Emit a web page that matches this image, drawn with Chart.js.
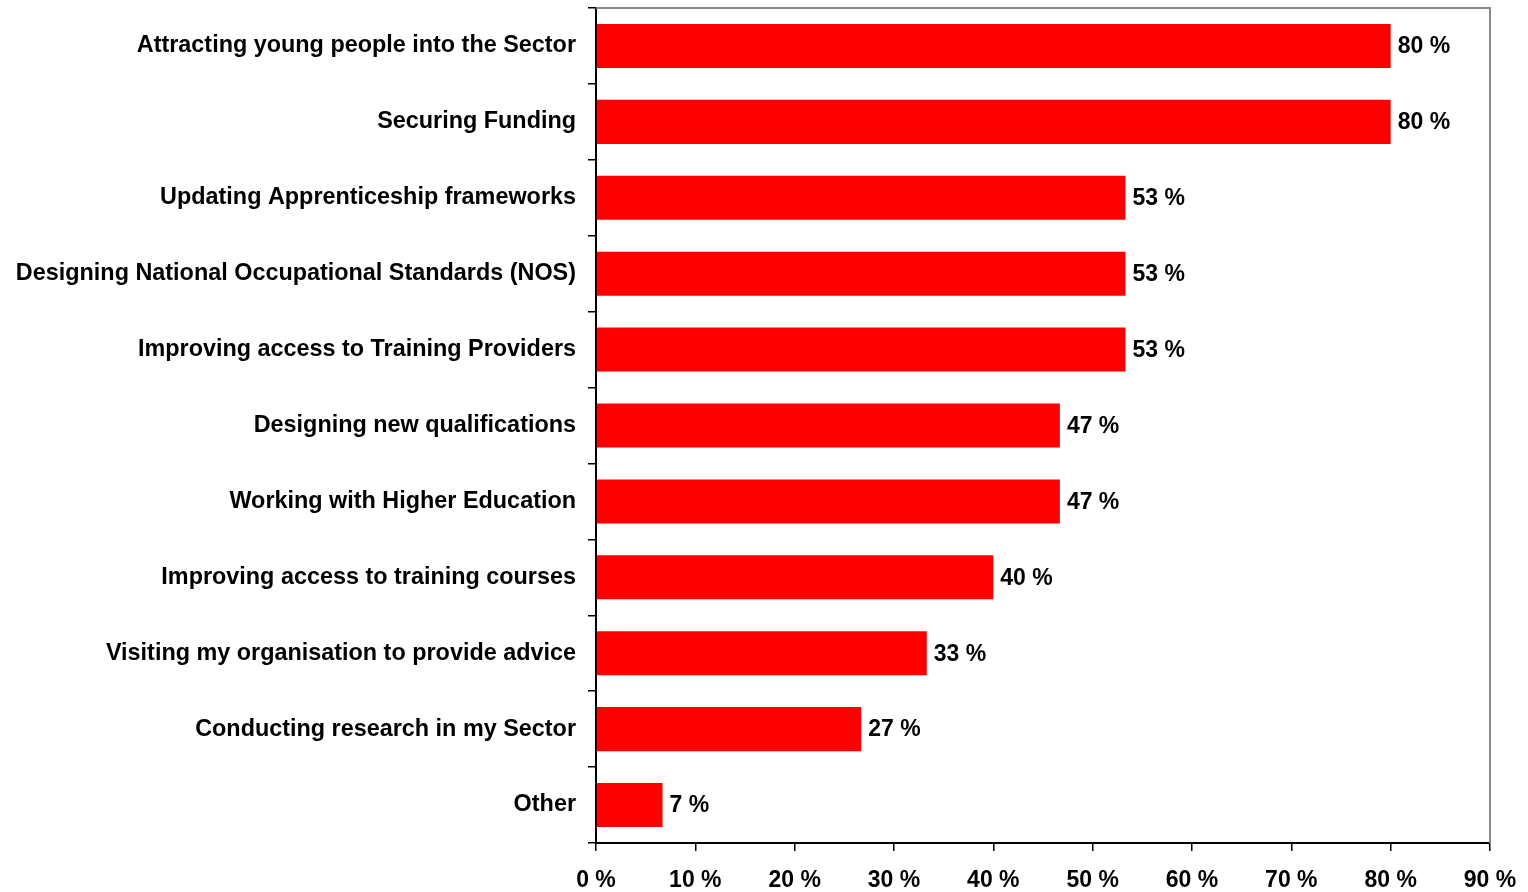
<!DOCTYPE html>
<html>
<head>
<meta charset="utf-8">
<script src="https://cdn.jsdelivr.net/npm/chart.js@4"></script>
<style>
  html, body { margin: 0; padding: 0; background: #fff; }
  #wrap { width: 1528px; height: 892px; }
</style>
</head>
<body>
<div id="wrap"><canvas id="barChart"></canvas></div>
<script>
const categories = [
  "Attracting young people into the Sector",
  "Securing Funding",
  "Updating Apprenticeship frameworks",
  "Designing National Occupational Standards (NOS)",
  "Improving access to Training Providers",
  "Designing new qualifications",
  "Working with Higher Education",
  "Improving access to training courses",
  "Visiting my organisation to provide advice",
  "Conducting research in my Sector",
  "Other"
];
const values = [80, 80, 53.3, 53.3, 53.3, 46.7, 46.7, 40, 33.3, 26.7, 6.7];
const valueLabels = ["80 %", "80 %", "53 %", "53 %", "53 %", "47 %", "47 %", "40 %", "33 %", "27 %", "7 %"];

const FONT = "'Liberation Sans', Arial, sans-serif";

// value labels at the end of each bar + grey frame on top/right
const barLabels = {
  id: "barLabels",
  afterDatasetsDraw(chart) {
    const ctx = chart.ctx;
    const meta = chart.getDatasetMeta(0);
    ctx.save();
    ctx.font = "bold 23px " + FONT;
    ctx.fillStyle = "#000";
    ctx.textAlign = "left";
    ctx.textBaseline = "middle";
    meta.data.forEach(function (bar, i) {
      ctx.fillText(valueLabels[i], bar.x + 7, bar.y + 1);
    });
    const a = chart.chartArea;
    ctx.strokeStyle = "#888";
    ctx.lineWidth = 2;
    ctx.beginPath();
    ctx.moveTo(a.left, a.top);
    ctx.lineTo(a.right, a.top);
    ctx.lineTo(a.right, a.bottom);
    ctx.stroke();
    ctx.restore();
  }
};

new Chart(document.getElementById("barChart"), {
  type: "bar",
  data: {
    labels: categories,
    datasets: [{
      data: values,
      backgroundColor: "#ff0000",
      borderWidth: 0,
      barPercentage: 0.58,
      categoryPercentage: 1
    }]
  },
  options: {
    indexAxis: "y",
    responsive: true,
    maintainAspectRatio: false,
    animation: false,
    layout: { padding: { top: 8, right: 38, left: 0, bottom: 0 } },
    plugins: { legend: { display: false }, tooltip: { enabled: false } },
    scales: {
      x: {
        min: 0,
        max: 90,
        ticks: {
          stepSize: 10,
          color: "#000",
          font: { family: FONT, size: 23, weight: "bold" },
          padding: 16,
          maxRotation: 0,
          callback: function (v) { return v + " %"; }
        },
        grid: { drawOnChartArea: false, drawTicks: true, tickLength: 8, color: "#000", lineWidth: 1.5 },
        border: { display: true, color: "#000", width: 2 },
        afterFit: function (scale) {
          scale.height = 49;
          scale.paddingLeft = 0;
          scale.paddingRight = 0;
        }
      },
      y: {
        ticks: {
          color: "#000",
          font: { family: FONT, size: 23.4, weight: "bold" },
          padding: 12
        },
        grid: { drawOnChartArea: false, drawTicks: true, tickLength: 8, color: "#000", lineWidth: 1.5, offset: true },
        border: { display: true, color: "#000", width: 2 },
        afterFit: function (scale) {
          scale.width = 596;
          scale.paddingTop = 0;
          scale.paddingBottom = 0;
        }
      }
    }
  },
  plugins: [barLabels]
});
</script>
</body>
</html>
